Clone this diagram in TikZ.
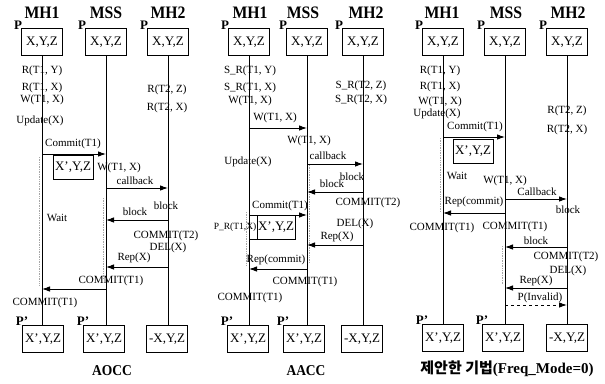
\documentclass[tikz,border=0pt]{standalone}
\usepackage{fontspec}
\setmainfont{Liberation Serif}
\newfontfamily\tallfont{Liberation Serif}[FakeStretch=0.9]
\newfontfamily\krfont{Noto Sans CJK KR}
\usetikzlibrary{arrows.meta}
\begin{document}
\begin{tikzpicture}[x=1pt,y=-1pt,
  box/.style={draw,line width=0.9pt,minimum width=41pt,minimum height=27pt,inner sep=1pt,font=\fontsize{13}{13}\selectfont},
  sbox/.style={draw,line width=0.9pt,minimum width=40pt,minimum height=24pt,inner sep=1pt,font=\fontsize{13}{13}\selectfont},
  ttl/.style={font=\tallfont\bfseries\fontsize{17.5}{17.5}\selectfont,inner sep=0pt},
  lbl/.style={font=\fontsize{11}{11}\selectfont,inner sep=0pt},
  pl/.style={font=\bfseries\fontsize{13}{13}\selectfont,inner sep=0pt},
  captxt/.style={font=\tallfont\bfseries\fontsize{15}{15}\selectfont,inner sep=0pt},
  life/.style={line width=0.9pt},
  msg/.style={line width=0.9pt,-{Latex[length=8pt,width=5.5pt]}},
  dmsg/.style={msg,dashed},
  wt/.style={gray!70,densely dotted,line width=0.7pt}]
\useasboundingbox (0,0) rectangle (605,383);
\fill[white] (0,0) rectangle (605,383);

% ================= Panel A : AOCC =================
\node[ttl] (A1t) at (42,13) {MH1};
\node[ttl] (A2t) at (106,13) {MSS};
\node[ttl] (A3t) at (168,13) {MH2};
\node[box] (A1) at (42,42) {X,Y,Z};
\node[box] (A2) at (106,42) {X,Y,Z};
\node[box] (A3) at (168,42) {X,Y,Z};
\node[pl] (A1p) at ([xshift=-3pt,yshift=3pt]A1.north west) {P};
\node[pl] (A2p) at ([xshift=-3pt,yshift=3pt]A2.north west) {P};
\node[pl] (A3p) at ([xshift=-3pt,yshift=3pt]A3.north west) {P};
\node[box] (A1b) at (43,339) {X’,Y,Z};
\node[box] (A2b) at (104,339) {X’,Y,Z};
\node[box] (A3b) at (167,339) {-X,Y,Z};
\node[pl] (A1q) at ([xshift=0pt,yshift=4pt]A1b.north west) {P’};
\node[pl] (A2q) at ([xshift=0pt,yshift=4pt]A2b.north west) {P’};
\draw[life] (A1.south) -- (A1.south |- A1b.north);
\draw[life] (A2.south) -- (A2.south |- A2b.north);
\draw[life] (A3.south) -- (A3.south |- A3b.north);
\draw[wt] (39.5,157) -- (39.5,285);
\draw[wt] (103.5,198) -- (103.5,278);

\node[lbl] (a1) at (42,71) {R(T1, Y)};
\node[lbl] (a2) at (42,88) {R(T1, X)};
\node[lbl] (a3) at (42,100) {W(T1, X)};
\node[lbl] (a4) at (40,121) {Update(X)};
\node[lbl] (a5) at (167,90) {R(T2, Z)};
\node[lbl] (a6) at (167,108) {R(T2, X)};
\node[lbl] (a7) at (73,144) {Commit(T1)};
\draw[msg] (A1 |- 0,154) -- (A2 |- 0,154);
\node[sbox] (A1x) at (73,167) {X’,Y,Z};
\node[lbl] (a8) at (119,168) {W(T1, X)};
\node[lbl] (a9) at (135,181) {callback};
\draw[msg] (A2 |- 0,188) -- (A3 |- 0,188);
\node[lbl] (a10) at (166,206) {block};
\node[lbl] (a11) at (57,218) {Wait};
\node[lbl] (a12) at (135,212) {block};
\draw[msg] (A3 |- 0,220) -- (A2 |- 0,220);
\node[lbl] (a13) at (166,236) {COMMIT(T2)};
\node[lbl] (a14) at (168,248) {DEL(X)};
\node[lbl] (a15) at (134,258) {Rep(X)};
\draw[msg] (A3 |- 0,267) -- (A2 |- 0,267);
\node[lbl] (a16) at (111,281) {COMMIT(T1)};
\draw[msg] (A2 |- 0,289) -- (A1 |- 0,289);
\node[lbl] (a17) at (45,303) {COMMIT(T1)};
\node[captxt] (Acap) at (112,371) {AOCC};

% ================= Panel B : AACC =================
\node[ttl] (B1t) at (250,13) {MH1};
\node[ttl] (B2t) at (303,13) {MSS};
\node[ttl] (B3t) at (366,13) {MH2};
\node[box] (B1) at (249,42) {X,Y,Z};
\node[box] (B2) at (307,42) {X,Y,Z};
\node[box] (B3) at (363,42) {X,Y,Z};
\node[pl] (B1p) at ([xshift=-3pt,yshift=3pt]B1.north west) {P};
\node[pl] (B2p) at ([xshift=-3pt,yshift=3pt]B2.north west) {P};
\node[pl] (B3p) at ([xshift=-3pt,yshift=3pt]B3.north west) {P};
\node[box] (B1b) at (248,339) {X’,Y,Z};
\node[box] (B2b) at (304,339) {X’,Y,Z};
\node[box] (B3b) at (362,339) {-X,Y,Z};
\node[pl] (B1q) at ([xshift=0pt,yshift=4pt]B1b.north west) {P’};
\node[pl] (B2q) at ([xshift=0pt,yshift=4pt]B2b.north west) {P’};
\draw[life] (B1.south) -- (B1.south |- B1b.north);
\draw[life] (B2.south) -- (B2.south |- B2b.north);
\draw[life] (B3.south) -- (B3.south |- B3b.north);
\draw[wt] (246.5,212) -- (246.5,265);
\draw[wt] (309.5,165) -- (309.5,262);

\node[lbl] (b1) at (250,71) {S\_R(T1, Y)};
\node[lbl] (b2) at (250,88) {S\_R(T1, X)};
\node[lbl] (b3) at (250,101) {W(T1, X)};
\node[lbl] (b4) at (361,86) {S\_R(T2, Z)};
\node[lbl] (b5) at (361,100) {S\_R(T2, X)};
\node[lbl] (b6) at (275,118) {W(T1, X)};
\draw[msg] (B1 |- 0,128) -- (B2 |- 0,128);
\node[lbl] (b7) at (309,141) {W(T1, X)};
\node[lbl] (b8) at (248,162) {Update(X)};
\node[lbl] (b9) at (328,156) {callback};
\draw[msg] (B2 |- 0,164) -- (B3 |- 0,164);
\node[lbl] (b10) at (352,177) {block};
\node[lbl] (b11) at (332,184) {block};
\draw[msg] (B3 |- 0,192) -- (B2 |- 0,192);
\node[lbl] (b12) at (368,203) {COMMIT(T2)};
\node[lbl] (b13) at (280,206) {Commit(T1)};
\draw[msg] (B1 |- 0,215) -- (B2 |- 0,215);
\node[sbox,minimum width=38pt] (B1x) at (276,227) {X’,Y,Z};
\draw[life] (B1 |- B1x.south) -- (B1x.south west);
\node[lbl,anchor=east,font=\fontsize{9.5}{9.5}\selectfont] (b14) at (B1x.west) {P\_R(T1,X)};
\node[lbl] (b15) at (355,224) {DEL(X)};
\node[lbl] (b16) at (337,237) {Rep(X)};
\draw[msg] (B3 |- 0,245) -- (B2 |- 0,245);
\node[lbl] (b17) at (276,260) {Rep(commit)};
\draw[msg] (B2 |- 0,269) -- (B1 |- 0,269);
\node[lbl] (b18) at (305,282) {COMMIT(T1)};
\node[lbl] (b19) at (250,298) {COMMIT(T1)};
\node[captxt] (Bcap) at (306,371) {AACC};

% ================= Panel C : proposed =================
\node[ttl] (C1t) at (442,13) {MH1};
\node[ttl] (C2t) at (506,13) {MSS};
\node[ttl] (C3t) at (568,13) {MH2};
\node[box] (C1) at (443,42) {X,Y,Z};
\node[box] (C2) at (505,42) {X,Y,Z};
\node[box] (C3) at (567,42) {X,Y,Z};
\node[pl] (C1p) at ([xshift=-3pt,yshift=3pt]C1.north west) {P};
\node[pl] (C2p) at ([xshift=-3pt,yshift=3pt]C2.north west) {P};
\node[pl] (C3p) at ([xshift=-3pt,yshift=3pt]C3.north west) {P};
\node[box] (C1b) at (443,338) {X’,Y,Z};
\node[box] (C2b) at (503,338) {X’,Y,Z};
\node[box] (C3b) at (567,338) {-X,Y,Z};
\node[pl] (C1q) at ([xshift=0pt,yshift=4pt]C1b.north west) {P’};
\node[pl] (C2q) at ([xshift=0pt,yshift=4pt]C2b.north west) {P’};
\draw[life] (C1.south) -- (C1.south |- C1b.north);
\draw[life] (C2.south) -- (C2.south |- C2b.north);
\draw[life] (C3.south) -- (C3.south |- C3b.north);
\draw[wt] (440.5,138) -- (440.5,212);
\draw[wt] (502.5,246) -- (502.5,285);

\node[lbl] (c1) at (440,71) {R(T1, Y)};
\node[lbl] (c2) at (440,87) {R(T1, X)};
\node[lbl] (c3) at (440,102) {W(T1, X)};
\node[lbl] (c4) at (437,114) {Update(X)};
\node[lbl] (c5) at (567,111) {R(T2, Z)};
\node[lbl] (c6) at (567,130) {R(T2, X)};
\node[lbl] (c7) at (475,127) {Commit(T1)};
\draw[msg] (C1 |- 0,137) -- (C2 |- 0,137);
\node[sbox] (C1x) at (473,151) {X’,Y,Z};
\node[lbl] (c8) at (457,176) {Wait};
\node[lbl] (c9) at (505,181) {W(T1, X)};
\node[lbl] (c10) at (537,192) {Callback};
\draw[msg] (C2 |- 0,199) -- (C3 |- 0,199);
\node[lbl] (c11) at (568,210) {block};
\node[lbl] (c12) at (474,202) {Rep(commit)};
\draw[msg] (C2 |- 0,213) -- (C1 |- 0,213);
\node[lbl] (c13) at (442,228) {COMMIT(T1)};
\node[lbl] (c14) at (515,227) {COMMIT(T1)};
\node[lbl] (c15) at (536,241) {block};
\draw[msg] (C3 |- 0,247) -- (C2 |- 0,247);
\node[lbl] (c16) at (566,257) {COMMIT(T2)};
\node[lbl] (c17) at (568,271) {DEL(X)};
\node[lbl] (c18) at (536,281) {Rep(X)};
\draw[msg] (C3 |- 0,288) -- (C2 |- 0,288);
\node[lbl] (c19) at (540,298) {P(Invalid)};
\draw[dmsg] (C2 |- 0,305) -- (C3 |- 0,305);
\node[inner sep=0pt] (Ccap) at (507,369) {{\krfont\bfseries\fontsize{15}{15}\selectfont 제안한 기법}{\bfseries\fontsize{15}{15}\selectfont (Freq\_Mode=0)}};
\end{tikzpicture}
\end{document}
